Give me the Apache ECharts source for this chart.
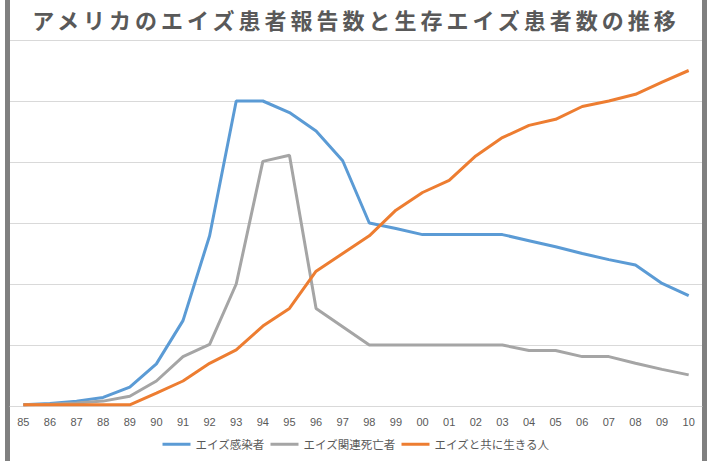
<!DOCTYPE html>
<html>
<head>
<meta charset="utf-8">
<script src="https://cdn.jsdelivr.net/npm/echarts@6/dist/echarts.min.js"></script>
<style>
html,body{margin:0;padding:0;background:#fff;}
#chart{width:712px;height:461px;}
#chart text[style*="22px"]{letter-spacing:4px;}
</style>
</head>
<body>
<div id="chart"></div>
<script>
const titleText = 'アメリカのエイズ患者報告数と生存エイズ患者数の推移';
const categories = ['85','86','87','88','89','90','91','92','93','94','95','96','97','98','99','00','01','02','03','04','05','06','07','08','09','10'];
const seriesNames = ['エイズ感染者','エイズ関連死亡者','エイズと共に生きる人'];
const infected = [0.2,0.4,0.8,1.4,3.1,6.9,14.0,27.9,50.0,50.0,48.1,45.1,40.2,30.0,29.1,28.1,28.1,28.1,28.1,27.1,26.1,25.0,24.0,23.1,20.1,18.1];
const deaths   = [0.2,0.3,0.5,0.8,1.6,4.1,8.1,10.1,20.0,40.1,41.1,16.0,13.0,10.0,10.0,10.0,10.0,10.0,10.0,9.1,9.1,8.1,8.1,7.0,6.0,5.1];
const living   = [0.2,0.2,0.2,0.2,0.2,2.1,4.1,7.0,9.2,13.1,16.0,22.1,25.0,27.9,32.1,35.0,37.0,41.0,44.0,46.0,47.0,49.1,50.0,51.1,53.1,55.0];
const colors = ['#5B9BD5','#A5A5A5','#ED7D31'];

const chart = echarts.init(document.getElementById('chart'), null, {renderer:'svg'});
const mk = (name, data, color) => ({
  name, type:'line', data, symbol:'none', smooth:false,
  lineStyle:{color, width:3}, itemStyle:{color}
});
chart.setOption({
  animation:false,
  title:{
    text:titleText, left:'center', top:3,
    textStyle:{fontFamily:'Noto Sans CJK JP', fontSize:22, fontWeight:'bold', color:'#595959'}
  },
  graphic:[
    {type:'rect', shape:{x:5,y:0,width:5,height:461}, style:{fill:'#808080'}, silent:true},
    {type:'rect', shape:{x:702,y:0,width:5,height:461}, style:{fill:'#808080'}, silent:true}
  ],
  legend:{
    bottom:6, left:'center', icon:'rect', itemWidth:28, itemHeight:3, itemGap:6,
    textStyle:{fontFamily:'Noto Sans CJK JP', fontSize:11.5, color:'#595959'},
    data:seriesNames
  },
  grid:{left:10, right:10, top:40, bottom:55, containLabel:false},
  xAxis:{
    type:'category', data:categories, boundaryGap:true,
    axisLine:{lineStyle:{color:'#d9d9d9', width:1}},
    axisTick:{show:false},
    axisLabel:{color:'#595959', fontSize:11, margin:10, fontFamily:'Liberation Sans', interval:0}
  },
  yAxis:{
    type:'value', min:0, max:60, interval:10,
    axisLabel:{show:false}, axisLine:{show:false}, axisTick:{show:false},
    splitLine:{lineStyle:{color:'#d9d9d9', width:1}}
  },
  series:[mk(seriesNames[0], infected, colors[0]), mk(seriesNames[1], deaths, colors[1]), mk(seriesNames[2], living, colors[2])]
});
</script>
</body>
</html>
